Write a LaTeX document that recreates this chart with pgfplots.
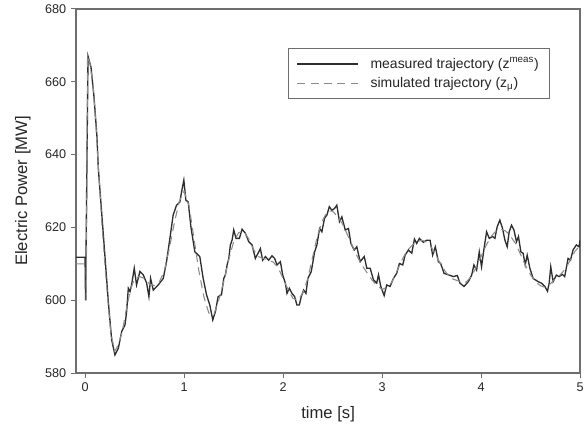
\documentclass[border={8pt 7pt 0pt 0pt}]{standalone}
\usepackage{pgfplots}
\pgfplotsset{compat=1.18}
\usepackage{fontspec}
\setmainfont{Liberation Sans}
\definecolor{axgray}{HTML}{6E6E6E}
\definecolor{measc}{HTML}{2E2E2E}
\definecolor{simc}{HTML}{8C8C8C}
\begin{document}
\begin{tikzpicture}
\begin{axis}[
  scale only axis,
  width=378.75pt, height=273.75pt,
  xmin=-0.09, xmax=5, ymin=580, ymax=680,
  xtick={0,1,2,3,4,5}, ytick={580,600,620,640,660,680},
  xtick pos=left, ytick pos=left,
  tick align=outside,
  major tick length=4pt,
  axis line style={axgray, line width=1pt},
  every tick/.style={axgray, line width=0.8pt},
  /pgf/number format/assume math mode=true,
  tick label style={font=\fontsize{9.5}{11}\selectfont, text=black!85},
  xlabel={time [s]}, ylabel={Electric Power [MW]},
  label style={font=\fontsize{12.5}{14}\selectfont, text=black!85},
  xlabel style={yshift=-4pt},
  ylabel style={yshift=4pt},
  legend style={at={(0.94,0.893)}, anchor=north east, draw=axgray, line width=0.6pt,
    font=\fontsize{10.5}{12.5}\selectfont, text=black!85, inner xsep=6pt, inner ysep=5pt, row sep=1.5pt},
  legend cell align=left,
  legend image code/.code={\draw[#1] (0cm,0cm) -- (1.6cm,0cm); \path (1.6cm+7pt,0cm);},
]
\addplot[measc, line width=1pt] coordinates {
(-0.09,611.8) (0,611.8) (0.005,600) (0.03,667) (0.06,664) (0.09,656) (0.12,645)
(0.134,636.2) (0.185,617.9) (0.235,599.6) (0.269,589.1) (0.302,585.0) (0.336,586.8)
(0.37,591.4) (0.403,593.2) (0.42,596.9) (0.437,603.3) (0.454,602.4) (0.47,604.2)
(0.497,608.8) (0.52,604.2) (0.554,607.9) (0.588,607.0) (0.622,604.7) (0.645,601.0)
(0.662,606.0) (0.689,602.8) (0.739,604.2) (0.79,606.0) (0.823,610.6) (0.857,617.0)
(0.89,623.4) (0.924,626.1) (0.958,627.0) (0.975,629.8) (0.998,633.0) (1.018,627.5)
(1.042,627.0) (1.069,620.2) (1.109,613.3) (1.159,612.0) (1.193,606.0) (1.227,601.5)
(1.26,598.7) (1.29,594.6) (1.317,596.9) (1.344,601.0) (1.378,601.5) (1.401,606.0)
(1.418,607.0) (1.435,609.7) (1.452,611.5) (1.468,615.2) (1.485,616.5) (1.502,619.3)
(1.525,617.0) (1.559,617.0) (1.586,619.5) (1.62,618.4) (1.653,616.1) (1.687,615.2)
(1.72,611.5) (1.747,612.9) (1.771,614.2) (1.794,611.0) (1.822,612.0) (1.855,611.0)
(1.888,612.2) (1.915,611.5) (1.939,609.7) (1.973,610.6) (1.996,607.0) (2.023,604.7)
(2.04,601.9) (2.063,603.3) (2.09,601.9) (2.117,601.0) (2.14,598.7) (2.164,598.7)
(2.184,601.0) (2.208,602.8) (2.231,601.9) (2.251,606.0) (2.285,607.9) (2.319,613.3)
(2.342,615.2) (2.369,619.7) (2.392,618.8) (2.419,622.5) (2.443,623.4) (2.467,625.7)
(2.493,624.7) (2.52,625.2) (2.543,626.1) (2.57,621.6) (2.594,622.9) (2.628,619.3)
(2.661,619.7) (2.685,615.6) (2.719,613.8) (2.745,614.7) (2.779,610.6) (2.82,612.0)
(2.846,608.8) (2.88,608.8) (2.913,605.6) (2.946,604.7) (2.964,607.0) (2.987,603.8)
(3.021,601.3) (3.047,604.2) (3.081,603.8) (3.115,606.0) (3.148,607.4) (3.175,610.1)
(3.209,609.7) (3.233,612.4) (3.266,613.8) (3.3,612.9) (3.327,616.8) (3.35,615.6)
(3.377,617.0) (3.417,615.9) (3.451,616.5) (3.485,616.5) (3.511,612.4) (3.538,614.7)
(3.569,610.6) (3.592,610.1) (3.626,607.4) (3.669,607.0) (3.72,606.5) (3.76,606.8)
(3.787,604.7) (3.828,603.8) (3.871,605.1) (3.905,606.9) (3.928,609.7) (3.955,608.3)
(3.982,613.3) (4.005,609.2) (4.03,614.2) (4.056,618.8) (4.083,617.0) (4.116,617.5)
(4.14,617.0) (4.163,620.2) (4.19,622.0) (4.217,619.7) (4.241,616.5) (4.264,614.7)
(4.284,618.8) (4.308,620.6) (4.332,619.3) (4.358,616.1) (4.378,617.5) (4.402,613.3)
(4.425,612.9) (4.446,609.7) (4.466,612.4) (4.493,608.8) (4.526,606.0) (4.577,605.1)
(4.61,604.7) (4.644,603.8) (4.671,602.5) (4.688,604.7) (4.704,609.2) (4.728,605.1)
(4.761,606.9) (4.788,606.5) (4.822,607.1) (4.845,606.5) (4.879,611.5) (4.903,611.0)
(4.929,613.8) (4.963,615.2) (4.99,614.7) (5.0,616.5)
};
\addlegendentry{measured trajectory (z\textsuperscript{meas})}
\addplot[simc, line width=0.8pt, dash pattern=on 6pt off 4pt] coordinates {
(-0.09,610) (0.01,610) (0.012,600) (0.025,667) (0.05,665) (0.08,659) (0.11,648)
(0.14,634) (0.17,621) (0.2,610) (0.23,600) (0.26,591) (0.3,586) (0.34,588) (0.38,592)
(0.42,598) (0.46,603) (0.5,606) (0.55,606.5) (0.6,606) (0.65,604.5) (0.7,604) (0.75,605)
(0.8,608) (0.85,614) (0.9,621) (0.95,627) (1.0,630) (1.05,626) (1.1,617) (1.15,608)
(1.2,601) (1.25,596.5) (1.3,596) (1.35,600) (1.4,605) (1.45,611) (1.5,616) (1.55,618.5)
(1.6,619) (1.65,617) (1.7,614) (1.75,612) (1.8,611.5) (1.85,611) (1.9,610.5) (1.95,609)
(2.0,606) (2.05,603) (2.1,600.5) (2.15,600) (2.2,602) (2.25,606) (2.3,612) (2.35,618)
(2.4,622) (2.45,624.5) (2.5,624.5) (2.55,623) (2.6,621) (2.65,618) (2.7,615) (2.75,612)
(2.8,609.5) (2.85,607.5) (2.9,605.5) (2.95,604) (3.0,603) (3.05,603.5) (3.1,605)
(3.15,608) (3.2,611) (3.25,613.5) (3.3,615) (3.35,616) (3.4,616.5) (3.45,616)
(3.5,614.5) (3.55,612) (3.6,609.5) (3.65,607.5) (3.7,606) (3.75,605.5) (3.8,605)
(3.85,605) (3.9,606.5) (3.95,609) (4.0,612) (4.05,615) (4.1,617.5) (4.15,619) (4.2,619.5)
(4.25,619) (4.3,617.5) (4.35,615.5) (4.4,612.5) (4.45,609.5) (4.5,607) (4.55,605)
(4.6,604) (4.65,603.5) (4.7,604.5) (4.75,606) (4.8,607) (4.85,608.5) (4.9,611)
(4.95,613.5) (5.0,615)
};
\addlegendentry{simulated trajectory (z\textsubscript{μ})}
\end{axis}
\end{tikzpicture}
\end{document}
